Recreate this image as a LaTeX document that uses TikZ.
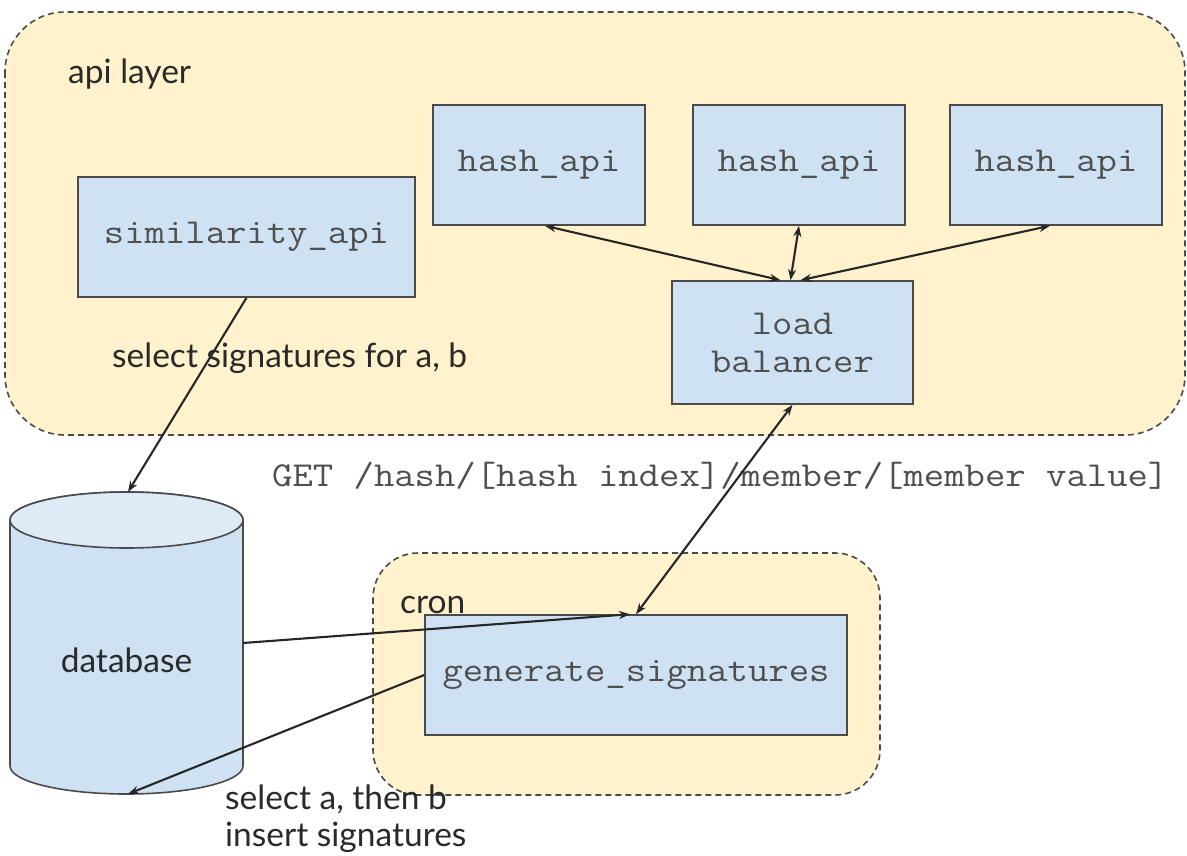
\documentclass[tikz,border=0pt]{standalone}
\usepackage{fontspec}
\setmainfont{Lato}
\setmonofont[FakeStretch=1.13]{Latin Modern Mono}
\usetikzlibrary{arrows.meta,calc}
\definecolor{grp}{HTML}{FFF2CC}
\definecolor{boxc}{HTML}{CFE2F3}
\definecolor{boxtop}{HTML}{DEEAF6}
\definecolor{edge}{HTML}{4A4A4A}
\definecolor{monotxt}{HTML}{4F4F4F}
\definecolor{sanstxt}{HTML}{2A2A2A}
\tikzset{
  grpbox/.style={draw=edge, fill=grp, dashed, dash pattern=on 6pt off 4pt, line width=1.6pt},
  monof/.style={font=\ttfamily\fontsize{35}{38}\selectfont, text=monotxt},
  compbox/.style={monof, draw=edge, fill=boxc, line width=1.6pt, rectangle, inner sep=0pt, align=center},
  lbl/.style={font=\fontsize{33.5}{37}\selectfont, text=sanstxt, inner sep=0pt},
  conn/.style={draw=black!85, line width=2.1pt},
  tip/.style={-{Stealth[length=11pt,width=8pt]}},
  tips/.style={{Stealth[length=11pt,width=8pt]}-{Stealth[length=11pt,width=8pt]}},
}
\begin{document}
\begin{tikzpicture}[x=1pt,y=-1pt]
\path[use as bounding box] (0,0) rectangle (1187,855);
\fill[white] (0,0) rectangle (1187,855);

% containers
\draw[grpbox, rounded corners=60pt] (5,12) rectangle (1185,435);
\draw[grpbox, rounded corners=45pt] (373,553) rectangle (880,795);

\node[lbl, anchor=west] (apil) at (68,74) {api layer};
\node[lbl, anchor=west] (cronl) at (400,605) {cron};

% boxes
\node[compbox, minimum width=337pt, minimum height=120pt] (sim) at (246.5,237) {similarity\_api};
\node[compbox, minimum width=212pt, minimum height=120pt] (h1) at (539,165) {hash\_api};
\node[compbox, minimum width=212pt, minimum height=120pt] (h2) at (799,165) {hash\_api};
\node[compbox, minimum width=212pt, minimum height=120pt] (h3) at (1056,165) {hash\_api};
\node[compbox, minimum width=241pt, minimum height=123pt] (lb) at (792.5,342.5) {load\\balancer};
\node[compbox, minimum width=422pt, minimum height=120pt] (gen) at (636,675) {generate\_signatures};

% database cylinder
\draw[draw=edge, fill=boxc, line width=1.6pt]
  (10,520) -- (10,766) arc[start angle=180, end angle=360, x radius=116.5pt, y radius=28pt]
  -- (243,520) arc[start angle=0, end angle=180, x radius=116.5pt, y radius=28pt] -- cycle;
\draw[draw=edge, fill=boxtop, line width=1.6pt] (126.5,520) ellipse[x radius=116.5pt, y radius=28pt];
\node[lbl] (db) at (126.5,660) {database};
\coordinate (dbtop) at (128,492);
\coordinate (dbbot) at (128,794);
\coordinate (dbright) at (243,643);

% GET label
\node[monof, inner sep=0pt, anchor=west] (get) at (272,476)
  {GET /hash/[hash index]/member/[member value]};

% connectors
\draw[conn, tips] ([xshift=6pt]h1.south) -- ([xshift=-12pt]lb.north);
\draw[conn, tips] (h2.south) -- ([xshift=-2pt]lb.north);
\draw[conn, tips] ([xshift=-6pt]h3.south) -- ([xshift=8pt]lb.north);
\draw[conn, tips] (lb.south) -- (gen.north);
\draw[conn, tip] (sim.south) -- (dbtop);
\draw[conn, tip] (dbright) -- ([xshift=-6pt]gen.north);
\draw[conn, tip] (gen.west) -- (dbbot);

% labels on connectors
\node[lbl, anchor=west] (sel) at (112,358) {select signatures for a, b};
\node[lbl, anchor=north west, align=left] (ins) at (225,785) {select a, then b\\insert signatures};
\end{tikzpicture}
\end{document}
